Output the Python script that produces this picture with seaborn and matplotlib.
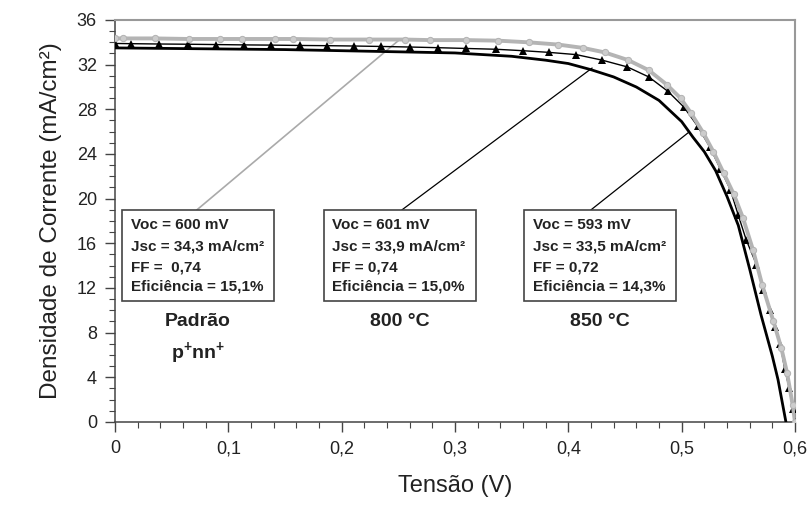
"""
Curvas J-V: padrão p+nn+ e dopagens a 800 °C e 850 °C.
"""
import matplotlib
matplotlib.use("Agg")
import matplotlib.pyplot as plt
import matplotlib.patches as patches
import seaborn as sns
from matplotlib.ticker import MultipleLocator

# Padrão p+nn+ (cinza, círculos)
v_padrao = [0, 0.007, 0.035, 0.065, 0.093, 0.112, 0.141, 0.157, 0.190, 0.224,
            0.256, 0.278, 0.310, 0.338, 0.365, 0.391, 0.413, 0.432, 0.453,
            0.471, 0.487, 0.499, 0.508, 0.519, 0.528, 0.537, 0.546, 0.554,
            0.563, 0.571, 0.581, 0.588, 0.593, 0.598, 0.600]
j_padrao = [34.35, 34.35, 34.35, 34.3, 34.3, 34.3, 34.3, 34.3, 34.25, 34.25,
            34.25, 34.2, 34.2, 34.15, 34.0, 33.8, 33.5, 33.1, 32.4,
            31.5, 30.2, 29.0, 27.7, 25.9, 24.2, 22.3, 20.4, 18.3,
            15.4, 12.3, 9.0, 6.6, 4.4, 1.5, 0]

# 800 °C (preto fino, triângulos)
v_800 = [0, 0.014, 0.039, 0.064, 0.089, 0.114, 0.138, 0.163, 0.187, 0.211,
         0.235, 0.260, 0.285, 0.310, 0.336, 0.360, 0.383, 0.407, 0.430,
         0.452, 0.471, 0.488, 0.502, 0.514, 0.525, 0.534, 0.543, 0.550,
         0.557, 0.566, 0.572, 0.578, 0.582, 0.587, 0.591, 0.595, 0.598, 0.601]
j_800 = [33.9, 33.88, 33.85, 33.83, 33.8, 33.77, 33.75, 33.72, 33.7, 33.67,
         33.63, 33.58, 33.52, 33.45, 33.38, 33.25, 33.1, 32.9, 32.4,
         31.8, 30.9, 29.6, 28.2, 26.5, 24.6, 22.7, 20.8, 18.5,
         16.3, 14.1, 11.8, 10.0, 8.5, 7.0, 4.7, 3.0, 1.2, 0]

# 850 °C (preto grosso)
v_850 = [0, 0.05, 0.10, 0.15, 0.20, 0.25, 0.30, 0.35, 0.38, 0.40, 0.42, 0.44,
         0.46, 0.48, 0.50, 0.51, 0.52, 0.53, 0.54, 0.55, 0.56, 0.57, 0.58,
         0.585, 0.592]
j_850 = [33.5, 33.45, 33.4, 33.35, 33.25, 33.15, 33.05, 32.75, 32.4, 32.1,
         31.55, 30.9, 30.0, 28.8, 26.9, 25.5, 24.2, 22.5, 20.2, 17.6, 13.7,
         9.6, 5.9, 3.8, 0]

box_texts = [
    ["Voc = 600 mV", "Jsc = 34,3 mA/cm²", "FF =  0,74", "Eficiência = 15,1%"],
    ["Voc = 601 mV", "Jsc = 33,9 mA/cm²", "FF = 0,74", "Eficiência = 15,0%"],
    ["Voc = 593 mV", "Jsc = 33,5 mA/cm²", "FF = 0,72", "Eficiência = 14,3%"],
]
group_labels = ["Padrão", "800 °C", "850 °C"]
x_ticks = [0, 0.1, 0.2, 0.3, 0.4, 0.5, 0.6]
x_tick_labels = ["0", "0,1", "0,2", "0,3", "0,4", "0,5", "0,6"]
y_ticks = list(range(0, 37, 4))

sns.set_theme(style="ticks")
plt.rcParams["font.family"] = ["Liberation Sans", "DejaVu Sans"]
plt.rcParams["mathtext.fontset"] = "custom"
plt.rcParams["mathtext.rm"] = "Liberation Sans"
plt.rcParams["mathtext.bf"] = "Liberation Sans:bold"

fig = plt.figure(figsize=(8.08, 5.05), dpi=100)
ax = fig.add_axes([0.1423, 0.1644, 0.8416, 0.796])

sns.lineplot(x=v_800, y=j_800, ax=ax, color="black", lw=1.0,
             marker="^", markersize=5.5, markeredgewidth=0, zorder=3)
sns.lineplot(x=v_padrao, y=j_padrao, ax=ax, color="#b4b4b4", lw=2.8,
             marker="o", markersize=4.5, markerfacecolor="#cccccc",
             markeredgecolor="#b4b4b4", zorder=4)
sns.lineplot(x=v_850, y=j_850, ax=ax, color="black", lw=2.0, zorder=5)

ax.set_xlim(0, 0.6)
ax.set_ylim(0, 36)
ax.set_xticks(x_ticks)
ax.set_xticklabels(x_tick_labels)
ax.set_yticks(y_ticks)
ax.xaxis.set_minor_locator(MultipleLocator(0.02))
ax.yaxis.set_minor_locator(MultipleLocator(1))
ax.tick_params(which="major", direction="out", length=7, width=1.0,
               color="#444444", labelsize=13, labelcolor="#222222", pad=6)
ax.tick_params(which="minor", direction="out", length=4, width=0.8,
               color="#444444")
for side in ["left", "bottom"]:
    ax.spines[side].set_color("#444444")
    ax.spines[side].set_linewidth(1.1)
for side in ["top", "right"]:
    ax.spines[side].set_visible(True)
    ax.spines[side].set_color("#999999")
    ax.spines[side].set_linewidth(1.5)

ax.set_xlabel("Tensão (V)", fontsize=17, color="#222222", labelpad=13)
ax.set_ylabel("Densidade de Corrente (mA/cm²)", fontsize=17.5,
              color="#222222", labelpad=11)

# caixas de resultados
box_left = [0.006, 0.1845, 0.361]
box_width = 0.134
box_bottom, box_top = 10.83, 18.98
text_left = [0.0139, 0.1918, 0.3692]
text_rows = [17.64, 15.70, 13.79, 12.11]
for i, lines in enumerate(box_texts):
    ax.add_patch(patches.Rectangle((box_left[i], box_bottom), box_width,
                                   box_top - box_bottom, fill=True,
                                   facecolor="white", edgecolor="#444444",
                                   lw=1.2, zorder=6))
    for row, line in zip(text_rows, lines):
        ax.text(text_left[i], row, line, fontsize=11, fontweight="bold",
                va="center", ha="left", color="#222222", zorder=7)
    ax.text(box_left[i] + box_width / 2, 9.0, group_labels[i], fontsize=14,
            fontweight="bold", ha="center", va="center", color="#222222")
ax.text(box_left[0] + box_width / 2, 6.2, r"$\mathbf{p^{+}nn^{+}}$",
        fontsize=14, ha="center", va="center", color="#222222")

# linhas indicadoras
ax.plot([0.0721, 0.250], [box_top, 34.15], color="#aaaaaa", lw=1.2, zorder=2)
ax.plot([0.253, 0.421], [box_top, 31.7], color="black", lw=0.9, zorder=2)
ax.plot([0.4198, 0.5057], [box_top, 25.9], color="black", lw=0.9, zorder=2)

fig.savefig("out.png", dpi=100)
